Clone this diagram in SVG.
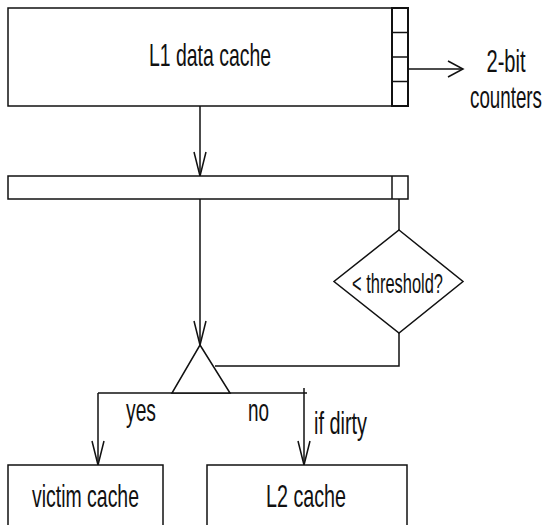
<svg xmlns="http://www.w3.org/2000/svg" width="545" height="525" viewBox="0 0 545 525">
  <style>
    .box { fill: #fff; stroke: #111; stroke-width: 1.5; }
    .line { fill: none; stroke: #111; stroke-width: 1.5; }
    .lbl { font-family: "Liberation Sans", Arial, sans-serif; font-size: 32px; fill: #111; }
    .mid { text-anchor: middle; }
  </style>
  <defs>
    <marker id="vee" viewBox="-26 -8 28 16" markerWidth="28" markerHeight="16" refX="0" refY="0" orient="auto" markerUnits="userSpaceOnUse">
      <path d="M-24,-6 L0,0 L-24,6" fill="none" stroke="#111" stroke-width="1.5"/>
    </marker>
    <marker id="vee-wide" viewBox="-18 -10 20 20" markerWidth="20" markerHeight="20" refX="0" refY="0" orient="auto" markerUnits="userSpaceOnUse">
      <path d="M-15,-8 L0,0 L-15,8" fill="none" stroke="#111" stroke-width="1.5"/>
    </marker>
  </defs>
  <rect width="545" height="525" fill="#fff"/>

  <!-- connectors -->
  <g id="connectors" class="line">
    <line x1="408" y1="69" x2="463" y2="69" marker-end="url(#vee-wide)"/>
    <line x1="200" y1="106" x2="200" y2="176" marker-end="url(#vee)"/>
    <line x1="200" y1="199" x2="200" y2="345" marker-end="url(#vee)"/>
    <line x1="399" y1="199" x2="399" y2="230"/>
    <polyline points="399,333 399,366 215,366"/>
    <line x1="98" y1="393" x2="307" y2="393"/>
    <line x1="98" y1="393" x2="98" y2="465" marker-end="url(#vee)"/>
    <line x1="304" y1="388" x2="304" y2="465" marker-end="url(#vee)"/>
  </g>

  <!-- L1 data cache with its counter column (labels use a narrow face, so x is squeezed) -->
  <g id="l1-cache">
    <rect class="box" x="8" y="8" width="384" height="98"/>
    <text class="lbl mid" transform="translate(210 66) scale(0.607 1)">L1 data cache</text>
  </g>
  <g id="counters">
    <rect class="box" x="392" y="8" width="16" height="98" style="stroke-width:2"/>
    <line class="line" x1="392" y1="32.5" x2="408" y2="32.5"/>
    <line class="line" x1="392" y1="57" x2="408" y2="57"/>
    <line class="line" x1="392" y1="81.5" x2="408" y2="81.5"/>
  </g>
  <g id="counters-label">
    <text class="lbl mid" transform="translate(506 72) scale(0.627 1)">2-bit</text>
    <text class="lbl mid" transform="translate(506 108) scale(0.587 1)">counters</text>
  </g>

  <!-- line buffer -->
  <g id="line-buffer">
    <rect class="box" x="8" y="176" width="400" height="23"/>
    <line class="line" x1="392" y1="176" x2="392" y2="199"/>
  </g>

  <!-- threshold test -->
  <g id="threshold">
    <polygon class="box" points="399,230 463,281.5 399,333 334,281.5"/>
    <text class="lbl mid" style="font-size:28px" transform="translate(397.5 293) scale(0.587 1)">&lt; threshold?</text>
  </g>

  <!-- selector -->
  <g id="selector">
    <polygon class="box" points="200,345 230,393 172,393"/>
  </g>

  <g id="branch-labels">
    <text class="lbl mid" transform="translate(141 421) scale(0.602 1)">yes</text>
    <text class="lbl mid" transform="translate(258.5 421) scale(0.59 1)">no</text>
    <text class="lbl" transform="translate(314 434) scale(0.621 1)">if dirty</text>
  </g>

  <!-- destinations -->
  <g id="victim-cache">
    <rect class="box" x="8" y="465" width="155" height="80"/>
    <text class="lbl mid" transform="translate(85.5 507) scale(0.608 1)">victim cache</text>
  </g>
  <g id="l2-cache">
    <rect class="box" x="207" y="465" width="200" height="80"/>
    <text class="lbl mid" transform="translate(306 507) scale(0.616 1)">L2 cache</text>
  </g>
</svg>
